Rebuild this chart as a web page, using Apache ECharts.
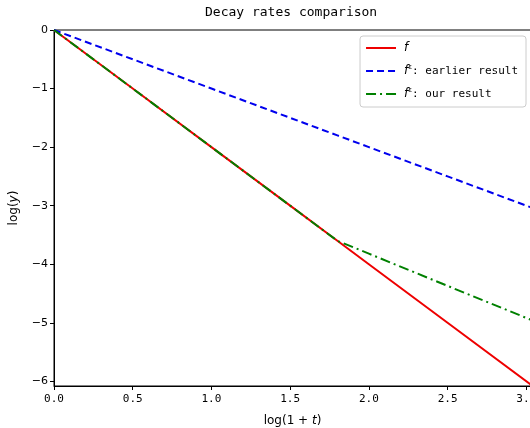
<!DOCTYPE html>
<html lang="en">
<head>
  <meta charset="UTF-8">
  <title>Decay rates comparison</title>
  <style>
    html, body { margin: 0; padding: 0; background: #fff; }
  </style>
</head>
<body>
  <div id="main" style="width:530px;height:428px;"></div>

  <script src="https://cdn.jsdelivr.net/npm/echarts@6.0.0/dist/echarts.min.js"></script>
  <script>
    // values
    var logT = [0, 0.5, 1.0, 1.5, 1.8, 2.0, 2.5, 3.03]
    var fExact = [0, -1, -2, -3, -3.6, -4, -5, -6.06]
    var fEarlier = [0, -0.5, -1, -1.5, -1.8, -2, -2.5, -3.03]
    var fOurs = [0, -1, -2, -3, -3.6, -3.82, -4.37, -4.95]
    var xTicks = [0, 0.5, 1.0, 1.5, 2.0, 2.5, 3.0]
    var yTicks = [0, -1, -2, -3, -4, -5, -6]

    function pairs(xs, ys) {
      return xs.map(function (x, i) { return [x, ys[i]] })
    }

    var legendText = {
      'f': '{i|f}',
      'f_earlier': '{i|f}{s|ε}: earlier result',
      'f_ours': '{i|f}{s|ε}: our result'
    }

    var myChart = echarts.init(document.getElementById('main'))

    var options = {
      animation: false,
      backgroundColor: '#fff',
      title: {
        text: 'Decay rates comparison',
        left: 205,
        top: 6,
        padding: 0,
        textStyle: {
          fontFamily: 'DejaVu Sans Mono',
          fontSize: 13,
          fontWeight: 'normal',
          color: '#000'
        }
      },
      legend: {
        orient: 'vertical',
        right: 4,
        top: 36,
        padding: [6, 8, 7, 5],
        itemGap: 10,
        itemWidth: 30,
        itemHeight: 14,
        backgroundColor: '#fff',
        borderColor: '#ccc',
        borderWidth: 1,
        borderRadius: 3,
        itemStyle: { opacity: 0 },
        lineStyle: { width: 2 },
        formatter: function (name) { return legendText[name] },
        textStyle: {
          fontFamily: 'DejaVu Sans Mono',
          fontSize: 11,
          color: '#000',
          padding: [0, 0, 0, 3],
          rich: {
            i: { fontFamily: 'DejaVu Sans', fontStyle: 'italic', fontSize: 12, color: '#000' },
            s: { fontFamily: 'DejaVu Sans', fontSize: 7, color: '#000', verticalAlign: 'top', padding: [0, 0, 7, 0] }
          }
        }
      },
      grid: {
        left: 54,
        top: 30,
        right: -1,
        bottom: 42,
        outerBoundsMode: 'none',
        containLabel: false,
        show: true,
        borderColor: '#000',
        borderWidth: 1
      },
      xAxis: {
        type: 'value',
        min: 0,
        max: 3.03,
        name: 'log(1 + {i|t})',
        nameLocation: 'middle',
        nameGap: 29,
        nameTextStyle: {
          fontFamily: 'DejaVu Sans',
          fontSize: 12,
          color: '#000',
          rich: { i: { fontFamily: 'DejaVu Sans', fontStyle: 'italic', fontSize: 12, color: '#000' } }
        },
        splitLine: { show: false },
        axisLine: { onZero: false, lineStyle: { color: '#000', width: 1 } },
        axisTick: { inside: false, length: 4, customValues: xTicks, lineStyle: { color: '#000' } },
        axisLabel: {
          customValues: xTicks,
          formatter: function (v) { return v.toFixed(1) },
          fontFamily: 'DejaVu Sans Mono',
          fontSize: 11,
          color: '#000',
          margin: 8
        }
      },
      yAxis: {
        type: 'value',
        min: -6.08,
        max: 0,
        name: 'log({i|y})',
        nameLocation: 'middle',
        nameRotate: 90,
        nameGap: 34,
        nameTextStyle: {
          fontFamily: 'DejaVu Sans',
          fontSize: 12,
          color: '#000',
          rich: { i: { fontFamily: 'DejaVu Sans', fontStyle: 'italic', fontSize: 12, color: '#000' } }
        },
        splitLine: { show: false },
        axisLine: { onZero: false, lineStyle: { color: '#000', width: 1 } },
        axisTick: { inside: false, length: 4, customValues: yTicks, lineStyle: { color: '#000' } },
        axisLabel: {
          customValues: yTicks,
          formatter: function (v) { return v < 0 ? '\u2212' + Math.abs(v) : String(v) },
          fontFamily: 'DejaVu Sans',
          fontSize: 11,
          color: '#000',
          margin: 6
        }
      },
      series: [
        {
          name: 'f',
          type: 'line',
          data: pairs(logT, fExact),
          symbol: 'none',
          z: 2,
          lineStyle: { color: '#ee0000', width: 2, type: 'solid' },
          itemStyle: { color: '#ee0000' }
        },
        {
          name: 'f_earlier',
          type: 'line',
          data: pairs(logT, fEarlier),
          symbol: 'none',
          z: 3,
          lineStyle: { color: '#0000ee', width: 2, type: [7, 4] },
          itemStyle: { color: '#0000ee' }
        },
        {
          name: 'f_ours',
          type: 'line',
          data: pairs(logT, fOurs),
          symbol: 'none',
          z: 4,
          lineStyle: { color: '#008000', width: 2, type: [10, 4, 2, 4] },
          itemStyle: { color: '#008000' }
        }
      ]
    }
    myChart.setOption(options)
  </script>
</body>
</html>
